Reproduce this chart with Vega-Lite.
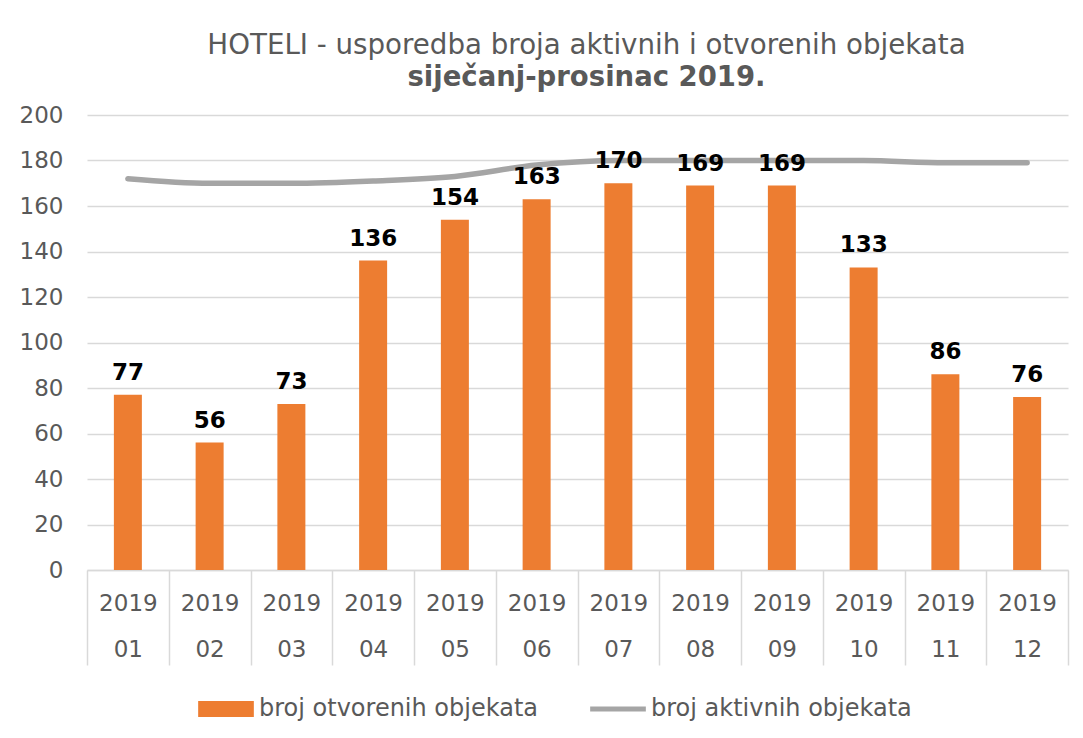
{
  "$schema": "https://vega.github.io/schema/vega-lite/v6.json",
  "width": 981,
  "height": 455,
  "autosize": {"type": "none"},
  "padding": {"left": 87, "top": 115, "right": 15, "bottom": 168},
  "background": "white",
  "title": {
    "text": "HOTELI - usporedba broja aktivnih i otvorenih objekata",
    "subtitle": "siječanj-prosinac 2019.",
    "anchor": "middle",
    "dx": 9,
    "offset": 13,
    "font": "DejaVu Sans",
    "fontSize": 27.7,
    "fontWeight": "normal",
    "color": "#595959",
    "subtitleFont": "DejaVu Sans",
    "subtitleFontSize": 27.5,
    "subtitleFontWeight": "bold",
    "subtitleColor": "#595959",
    "subtitlePadding": 4
  },
  "data": {
    "values": [
      {"mjesec": "2019 01", "otvoreni": 77, "aktivni": 172},
      {"mjesec": "2019 02", "otvoreni": 56, "aktivni": 170},
      {"mjesec": "2019 03", "otvoreni": 73, "aktivni": 170},
      {"mjesec": "2019 04", "otvoreni": 136, "aktivni": 171},
      {"mjesec": "2019 05", "otvoreni": 154, "aktivni": 173},
      {"mjesec": "2019 06", "otvoreni": 163, "aktivni": 178},
      {"mjesec": "2019 07", "otvoreni": 170, "aktivni": 180},
      {"mjesec": "2019 08", "otvoreni": 169, "aktivni": 180},
      {"mjesec": "2019 09", "otvoreni": 169, "aktivni": 180},
      {"mjesec": "2019 10", "otvoreni": 133, "aktivni": 180},
      {"mjesec": "2019 11", "otvoreni": 86, "aktivni": 179},
      {"mjesec": "2019 12", "otvoreni": 76, "aktivni": 179}
    ]
  },
  "encoding": {
    "x": {
      "field": "mjesec",
      "type": "nominal",
      "sort": null,
      "title": null,
      "scale": {"paddingInner": 0, "paddingOuter": 0},
      "axis": {
        "labelExpr": "split(datum.label, ' ')",
        "labelAngle": 0,
        "labelFont": "DejaVu Sans",
        "labelFontSize": 23,
        "labelColor": "#595959",
        "labelLineHeight": 46,
        "labelPadding": -73,
        "tickBand": "extent",
        "tickSize": 95,
        "tickColor": "#d9d9d9",
        "tickWidth": 1.5,
        "domainColor": "#d9d9d9",
        "domainWidth": 1.5,
        "grid": false
      }
    }
  },
  "layer": [
    {
      "mark": {"type": "bar", "size": 28},
      "encoding": {
        "y": {
          "field": "otvoreni",
          "type": "quantitative",
          "title": null,
          "scale": {"domain": [0, 200]},
          "axis": {
            "values": [0, 20, 40, 60, 80, 100, 120, 140, 160, 180, 200],
            "labelFont": "DejaVu Sans",
            "labelFontSize": 23,
            "labelColor": "#595959",
            "labelPadding": 24,
            "ticks": false,
            "domain": false,
            "gridColor": "#d9d9d9",
            "gridWidth": 1.5
          }
        },
        "color": {
          "datum": "broj otvorenih objekata",
          "type": "nominal",
          "scale": {
            "domain": ["broj otvorenih objekata", "broj aktivnih objekata"],
            "range": ["#ED7D31", "#A5A5A5"]
          },
          "legend": {
            "title": null,
            "orient": "none",
            "legendX": 111,
            "legendY": 566,
            "direction": "horizontal",
            "labelFont": "DejaVu Sans",
            "labelFontSize": 24,
            "labelColor": "#595959",
            "labelOffset": 5,
            "labelLimit": 0,
            "columnPadding": 51,
            "symbolSize": 3100,
            "encode": {
              "symbols": {
                "update": {
                  "shape": {"signal": "datum.value === 'broj otvorenih objekata' ? 'M-1,-0.29H1V0.29H-1Z' : 'M-1,-0.09H1V0.09H-1Z'"},
                  "fill": {"signal": "datum.value === 'broj otvorenih objekata' ? '#ED7D31' : '#A5A5A5'"},
                  "stroke": {"value": "transparent"},
                  "strokeWidth": {"value": 0},
                  "opacity": {"value": 1}
                }
              }
            }
          }
        }
      }
    },
    {
      "mark": {"type": "line", "strokeWidth": 5.5, "interpolate": "monotone", "strokeCap": "round"},
      "encoding": {
        "y": {"field": "aktivni", "type": "quantitative"},
        "color": {"datum": "broj aktivnih objekata", "type": "nominal"}
      }
    },
    {
      "mark": {"type": "text", "font": "DejaVu Sans", "fontSize": 23, "fontWeight": "bold", "color": "black", "baseline": "alphabetic", "dy": -15},
      "encoding": {
        "y": {"field": "otvoreni", "type": "quantitative"},
        "text": {"field": "otvoreni", "type": "quantitative"}
      }
    }
  ],
  "config": {
    "view": {"stroke": null}
  }
}
